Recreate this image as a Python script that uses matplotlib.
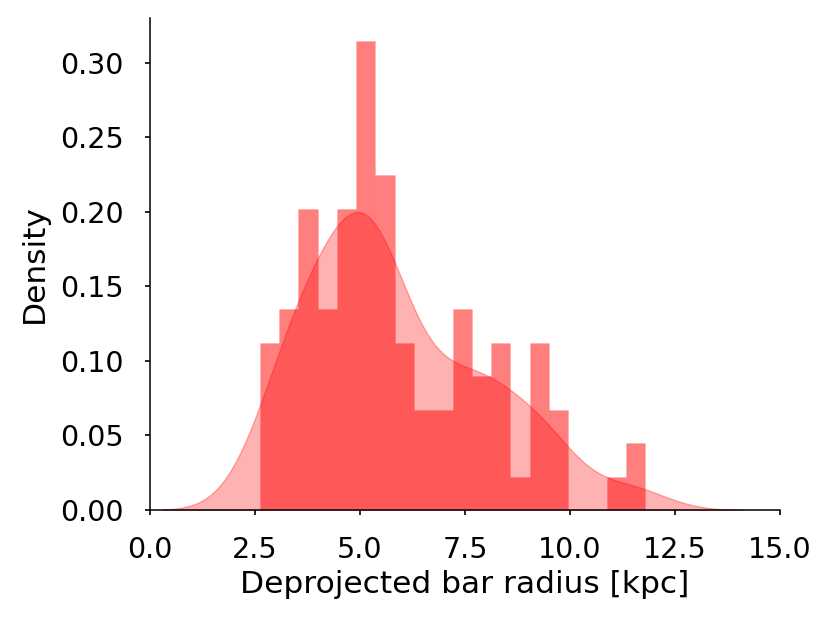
import numpy as np
import matplotlib
matplotlib.use("Agg")
import matplotlib.pyplot as plt

# histogram: 20 bins between the smallest and largest radius
radius_min = 2.613
radius_max = 11.795
bin_counts = [5, 6, 9, 6, 9, 14, 10, 5, 3, 3, 6, 4, 5, 1, 5, 3, 0, 0, 1, 2]

x_ticks = [0.0, 2.5, 5.0, 7.5, 10.0, 12.5, 15.0]
y_ticks = [0.00, 0.05, 0.10, 0.15, 0.20, 0.25, 0.30]

edges = np.linspace(radius_min, radius_max, len(bin_counts) + 1)
centers = 0.5 * (edges[:-1] + edges[1:])
sample = np.repeat(centers, bin_counts)


def gaussian_kde(data, grid):
    """Gaussian KDE with Scott's bandwidth (like seaborn's default)"""
    n = len(data)
    bw = np.std(data, ddof=1) * n ** (-1 / 5)
    z = (grid[:, None] - data[None, :]) / bw
    return np.exp(-0.5 * z ** 2).sum(axis=1) / (n * bw * np.sqrt(2 * np.pi)), bw


fig = plt.figure(figsize=(8.3, 6.23), dpi=100)
ax = fig.add_axes([0.1807, 0.1814, 0.7591, 0.7896])

ax.hist(centers, bins=edges, weights=bin_counts, density=True,
        facecolor=(1, 0, 0, 0.5), edgecolor=(1, 0, 0, 0.08), linewidth=0.6)

_, bw = gaussian_kde(sample, np.array([0.0]))
grid = np.linspace(sample.min() - 3 * bw, sample.max() + 3 * bw, 400)
dens, _ = gaussian_kde(sample, grid)
ax.fill_between(grid, dens, 0, facecolor=(1, 0, 0, 0.3),
                edgecolor=(1, 0, 0, 0.3), linewidth=1.0)

ax.set_xlim(0, 15)
ax.set_ylim(0, max(np.array(bin_counts) / (sum(bin_counts) * (edges[1] - edges[0]))) * 1.05)
ax.set_xticks(x_ticks)
ax.set_yticks(y_ticks)
ax.tick_params(labelsize=20.5, length=3.8, width=1.2, pad=15)
ax.set_xlabel("Deprojected bar radius [kpc]", fontsize=22.5, labelpad=4)
ax.set_ylabel("Density", fontsize=22.5, labelpad=8)
for side in ["top", "right"]:
    ax.spines[side].set_visible(False)
for side in ["left", "bottom"]:
    ax.spines[side].set_linewidth(1.1)

fig.savefig("out.png", dpi=100)
